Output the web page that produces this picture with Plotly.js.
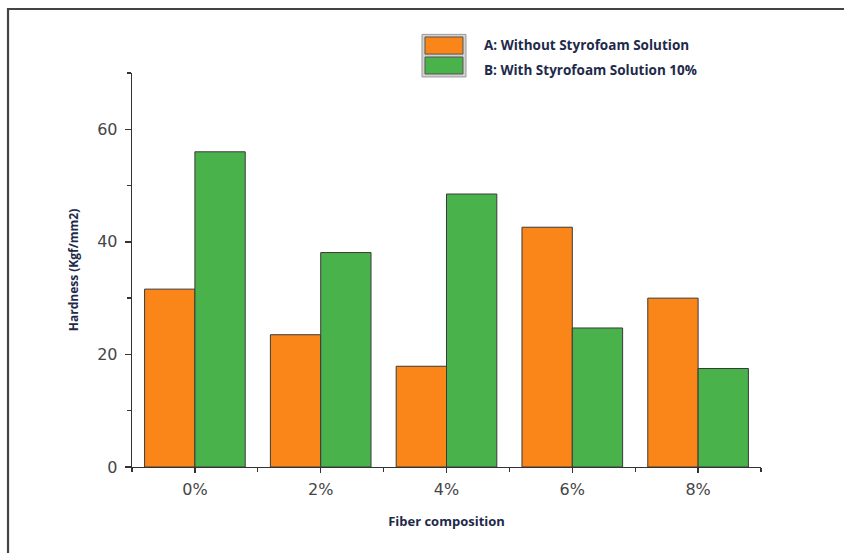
<!DOCTYPE html>
<html>
<head>
<meta charset="utf-8">
<script src="https://cdn.plot.ly/plotly-3.0.1.min.js"></script>
<style>
html,body{margin:0;padding:0;background:#fff;}
#chart{width:844px;height:553px;}
</style>
</head>
<body>
<div id="chart"></div>
<script>
// ---- data ----
const categories = ["0%", "2%", "4%", "6%", "8%"];
const seriesNames = ["A: Without Styrofoam Solution", "B: With Styrofoam Solution 10%"];
const withoutStyrofoam = [31.6, 23.5, 17.9, 42.6, 30.0];
const withStyrofoam = [56.0, 38.1, 48.5, 24.7, 17.5];
const yTickValues = [0, 20, 40, 60];
const xTitle = "Fiber composition";
const yTitle = "Hardness (Kgf/mm2)";

const orange = "#FA8519";
const green = "#4AB24A";
const xIdx = categories.map((c, i) => i);

const traces = [
  {type: "bar", name: seriesNames[0], x: xIdx, y: withoutStyrofoam,
   marker: {color: orange, line: {color: "#3a3a3a", width: 1}}, showlegend: false, hoverinfo: "y"},
  {type: "bar", name: seriesNames[1], x: xIdx, y: withStyrofoam,
   marker: {color: green, line: {color: "#3a3a3a", width: 1}}, showlegend: false, hoverinfo: "y"}
];

const textColor = "#1e2a4a";
const tickFont = {family: "DejaVu Sans, sans-serif", size: 16, color: "#454545"};
const layout = {
  width: 844, height: 553,
  margin: {l: 132, r: 83, t: 73, b: 86},
  paper_bgcolor: "#fff", plot_bgcolor: "#fff",
  barmode: "group", bargap: 0.2, bargroupgap: 0,
  xaxis: {
    range: [-0.5, 4.5], tickmode: "array", tickvals: xIdx, ticktext: categories,
    showgrid: false, zeroline: false, showline: true, linecolor: "#333", linewidth: 1.3,
    ticks: "outside", ticklen: 5, tickcolor: "#333", tickwidth: 1.3, ticklabelstandoff: 2,
    tickfont: tickFont,
    minor: {tick0: 0.5, dtick: 1, ticks: "outside", ticklen: 4, tickcolor: "#333", tickwidth: 1.3, showgrid: false},
    title: {text: xTitle, standoff: 19,
      font: {family: "Open Sans, sans-serif", size: 13, color: textColor, weight: 700}}
  },
  yaxis: {
    range: [0, 70], tickmode: "array", tickvals: yTickValues,
    showgrid: false, zeroline: false, showline: true, linecolor: "#333", linewidth: 1.3,
    ticks: "outside", ticklen: 6, tickcolor: "#333", tickwidth: 1.3, ticklabelstandoff: 4,
    tickfont: tickFont,
    minor: {tick0: 0, dtick: 10, ticks: "outside", ticklen: 4, tickcolor: "#333", tickwidth: 1.3, showgrid: false},
    title: {text: yTitle, standoff: 16,
      font: {family: "Open Sans, sans-serif", size: 12, color: textColor, weight: 700}}
  },
  shapes: [
    // outer frame
    {type: "path", xref: "paper", yref: "paper",
     path: "M -0.1971 -0.4 L -0.1971 1.1624 L 1.3 1.1624",
     line: {color: "#444", width: 2.2}},
    // legend swatch box
    {type: "rect", xref: "paper", yref: "paper", x0: 0.4610, x1: 0.5310, y0: 0.9900, y1: 1.0980,
     fillcolor: "#d2d2d2", line: {color: "#9a9a9a", width: 1}},
    {type: "rect", xref: "paper", yref: "paper", x0: 0.4658, x1: 0.5262, y0: 1.0480, y1: 1.0914,
     fillcolor: orange, line: {color: "#555", width: 1}},
    {type: "rect", xref: "paper", yref: "paper", x0: 0.4658, x1: 0.5262, y0: 0.9975, y1: 1.0406,
     fillcolor: green, line: {color: "#555", width: 1}}
  ],
  annotations: [
    {xref: "paper", yref: "paper", x: 0.5564, y: 1.071, xanchor: "left", yanchor: "middle",
     text: seriesNames[0], showarrow: false,
     font: {family: "Open Sans, sans-serif", size: 13.5, color: textColor, weight: 700}},
    {xref: "paper", yref: "paper", x: 0.5564, y: 1.0076, xanchor: "left", yanchor: "middle",
     text: seriesNames[1], showarrow: false,
     font: {family: "Open Sans, sans-serif", size: 13.5, color: textColor, weight: 700}}
  ]
};

Plotly.newPlot("chart", traces, layout, {displayModeBar: false, staticPlot: true});
</script>
</body>
</html>
